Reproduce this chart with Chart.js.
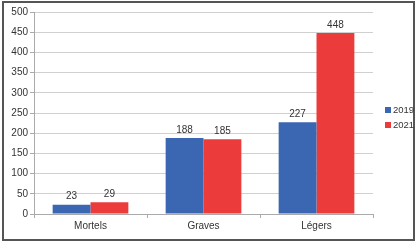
<!DOCTYPE html>
<html lang="fr">
<head>
<meta charset="UTF-8">
<title>Chart</title>
<script src="https://cdn.jsdelivr.net/npm/chart.js"></script>
<style>
  html, body { margin: 0; padding: 0; background: #fff; }
  #wrap { width: 417px; height: 244px; position: relative; }
</style>
</head>
<body>
<div id="wrap"><canvas id="myChart" width="417" height="244"></canvas></div>
<script>
const categories = ['Mortels', 'Graves', 'Légers'];
const values2019 = [23, 188, 227];
const values2021 = [29, 185, 448];
const seriesNames = ['2019', '2021'];

const textColor = '#333';
const gridColor = '#d0d0d0';
const fontFamily = '"Liberation Sans", Arial, sans-serif';

// frame, value labels over the bars and the small legend on the right
const extras = {
    id: 'extras',
    beforeDraw(chart) {
        const ctx = chart.ctx;
        ctx.save();
        ctx.fillStyle = '#fff';
        ctx.fillRect(0, 0, chart.width, chart.height);
        ctx.strokeStyle = '#555';
        ctx.lineWidth = 2;
        ctx.strokeRect(3, 2, 411, 238);
        ctx.restore();
    },
    afterDatasetsDraw(chart) {
        const ctx = chart.ctx;
        ctx.save();
        ctx.font = '10px ' + fontFamily;
        ctx.fillStyle = textColor;
        ctx.textAlign = 'center';
        ctx.textBaseline = 'bottom';
        chart.data.datasets.forEach((ds, i) => {
            chart.getDatasetMeta(i).data.forEach((bar, j) => {
                ctx.fillText(ds.data[j], bar.x, bar.y - 3);
            });
        });
        // legend
        const midY = (chart.chartArea.top + chart.chartArea.bottom) / 2;
        const x0 = chart.chartArea.right + 12;
        ctx.font = '9.5px ' + fontFamily;
        ctx.textAlign = 'left';
        ctx.textBaseline = 'middle';
        chart.data.datasets.forEach((ds, i) => {
            const y = midY - 3 + i * 15;
            ctx.fillStyle = ds.backgroundColor;
            ctx.fillRect(x0, y - 3, 6, 6);
            ctx.fillStyle = textColor;
            ctx.fillText(ds.label, x0 + 8, y);
        });
        ctx.restore();
    }
};

new Chart(document.getElementById('myChart').getContext('2d'), {
    type: 'bar',
    data: {
        labels: categories,
        datasets: [{
            label: seriesNames[0],
            data: values2019,
            backgroundColor: '#3b66b2'
        }, {
            label: seriesNames[1],
            data: values2021,
            backgroundColor: '#ec3b3b'
        }]
    },
    options: {
        responsive: false,
        animation: false,
        devicePixelRatio: 1,
        categoryPercentage: 0.67,
        barPercentage: 1.0,
        layout: { padding: { left: 4, top: 12, right: 44, bottom: 8 } },
        plugins: {
            legend: { display: false },
            tooltip: { enabled: false }
        },
        scales: {
            x: {
                afterFit(scale) { scale.height = 22; },
                grid: {
                    offset: true,
                    drawOnChartArea: true,
                    color: (c) => c.index === 3 ? gridColor : 'rgba(0,0,0,0)',
                    tickColor: '#aaa',
                    tickLength: 4
                },
                border: { color: '#aaa' },
                ticks: {
                    color: textColor,
                    padding: 2,
                    font: { family: fontFamily, size: 10 }
                }
            },
            y: {
                min: 0,
                max: 500,
                afterFit(scale) { scale.width = 30; },
                grid: { color: gridColor, tickColor: '#aaa', tickLength: 4 },
                border: { color: '#aaa' },
                ticks: {
                    stepSize: 50,
                    color: textColor,
                    padding: 2,
                    font: { family: fontFamily, size: 10 }
                }
            }
        }
    },
    plugins: [extras]
});
</script>
</body>
</html>
